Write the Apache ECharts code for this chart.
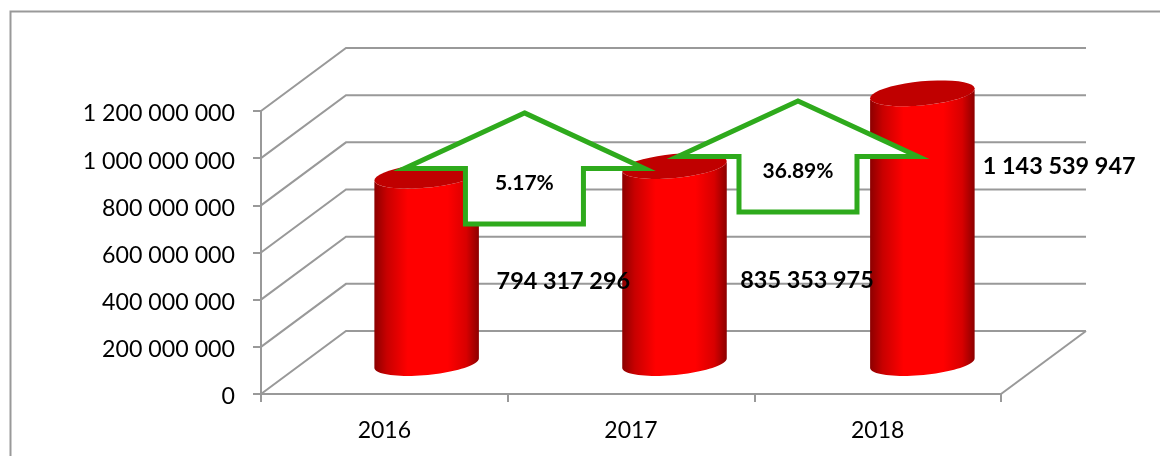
<!DOCTYPE html>
<html>
<head>
<meta charset="utf-8">
<style>
  html, body { margin: 0; padding: 0; background: #fff; }
  #chart { width: 1160px; height: 456px; }
</style>
<script src="https://cdn.jsdelivr.net/npm/echarts@6/dist/echarts.min.js"></script>
</head>
<body>
<div id="chart"></div>
<script>
const years = ["2016", "2017", "2018"];
const amounts = [794317296, 835353975, 1143539947];
const gridTicks = [0, 200000000, 400000000, 600000000, 800000000, 1000000000, 1200000000];
// arrows: [x on the hidden 0-3 axis, value of the tip, text]
const arrowX = [1.068, 2.177];
const arrowTip = [1192000000, 1242000000];
const arrowText = ["5.17%", "36.89%"];

const fontName = "Lato, 'Noto Sans', sans-serif";
const lineGrey = "#999999";
// how far the back wall sits behind the axis plane
const depthX = 85;
const depthY = -63;
// amount labels were moved by hand in the original
const labelShift = [[179, 75], [176, 83], [181.5, 42]];

const spaced = (v) => String(v).replace(/\B(?=(\d{3})+(?!\d))/g, " ");

// tilted ellipse outline, from angle a to angle b
function ellipsePoints(cx, cy, rx, ry, a, b) {
  const tilt = (-5.5 * Math.PI) / 180;
  const pts = [];
  for (let i = 0; i <= 40; i++) {
    const t = a + ((b - a) * i) / 40;
    const ex = rx * Math.cos(t);
    const ey = ry * Math.sin(t);
    pts.push([
      cx + ex * Math.cos(tilt) - ey * Math.sin(tilt),
      cy + ex * Math.sin(tilt) + ey * Math.cos(tilt),
    ]);
  }
  return pts;
}

function renderWall(params, api) {
  const v = api.value(0);
  const front = api.coord([0, v]);
  const end = api.coord([3, v]);
  const back = [front[0] + depthX, front[1] + depthY];
  const backEnd = [end[0] + depthX, end[1] + depthY];
  const children = [{
    type: "polyline",
    shape: { points: [front, back, backEnd] },
    style: { stroke: lineGrey, lineWidth: 2, fill: null },
  }];
  if (v === 0) {
    children.push({
      type: "line",
      shape: { x1: end[0], y1: end[1], x2: backEnd[0], y2: backEnd[1] },
      style: { stroke: lineGrey, lineWidth: 2 },
    });
  }
  return { type: "group", children };
}

function renderCylinder(params, api) {
  const cat = api.value(0);
  const base = api.coord([cat, 0]);
  const top = api.coord([cat, api.value(1)]);
  // the column stands half way into the floor, spacing opens up slightly with depth
  const cx = base[0] + 42.3 + cat * 1.2;
  const yBase = base[1] - 31;
  const yTop = top[1] - 31;
  const rx = 52.5;
  const ry = 12;
  const lower = ellipsePoints(cx, yBase, rx, ry, Math.PI, 0);
  const upper = ellipsePoints(cx, yTop, rx, ry, 0, Math.PI);
  const side = {
    type: "linear", x: 0, y: 0, x2: 1, y2: 0,
    colorStops: [
      { offset: 0, color: "#8c0000" },
      { offset: 0.12, color: "#c80000" },
      { offset: 0.32, color: "#ff0000" },
      { offset: 0.7, color: "#ff0000" },
      { offset: 0.88, color: "#d80000" },
      { offset: 1, color: "#8c0000" },
    ],
  };
  return {
    type: "group",
    children: [
      { type: "polygon", shape: { points: upper.concat(lower) }, style: { fill: side } },
      {
        type: "polygon",
        shape: { points: ellipsePoints(cx, yTop, rx, ry, 0, Math.PI * 2) },
        style: { fill: "#c00000" },
      },
    ],
  };
}

function renderAmountLabel(params, api) {
  const i = params.dataIndex;
  const p = api.coord([api.value(0), api.value(1)]);
  return {
    type: "text",
    x: p[0] + labelShift[i][0],
    y: p[1] + labelShift[i][1],
    style: {
      text: spaced(amounts[i]),
      fontFamily: fontName,
      fontWeight: "bold",
      fontSize: 23.4,
      fill: "#000",
      align: "center",
      verticalAlign: "middle",
    },
  };
}

function renderArrow(params, api) {
  const p = api.coord([api.value(0), api.value(1)]);
  const x = p[0];
  const y = p[1];
  return {
    type: "group",
    children: [
      {
        type: "polygon",
        shape: {
          points: [
            [x, y],
            [x + 120, y + 55.5],
            [x + 59, y + 55.5],
            [x + 59, y + 111],
            [x - 59, y + 111],
            [x - 59, y + 55.5],
            [x - 120, y + 55.5],
          ],
        },
        style: { fill: "#fff", stroke: "#2eaa1c", lineWidth: 5, lineJoin: "miter", miterLimit: 10 },
      },
      {
        type: "text",
        x: x,
        y: y + 70,
        style: {
          text: arrowText[params.dataIndex],
          fontFamily: fontName,
          fontWeight: "bold",
          fontSize: 21,
          fill: "#000",
          align: "center",
          verticalAlign: "middle",
        },
      },
    ],
  };
}

const chart = echarts.init(document.getElementById("chart"));
chart.setOption({
  animation: false,
  backgroundColor: "#fff",
  graphic: [{
    type: "rect",
    silent: true,
    // right and bottom edges run off the picture
    shape: { x: 10.5, y: 11.5, width: 1200, height: 500 },
    style: { fill: null, stroke: lineGrey, lineWidth: 2 },
  }],
  grid: { left: 261, right: 159, top: 111, bottom: 62 },
  xAxis: [
    {
      type: "category",
      data: years,
      axisLine: { lineStyle: { color: lineGrey, width: 2 } },
      axisTick: { show: true, length: 8, lineStyle: { color: lineGrey, width: 2 } },
      axisLabel: { margin: 25, fontSize: 23, fontFamily: fontName, color: "#000" },
    },
    { type: "value", min: 0, max: 3, show: false },
  ],
  yAxis: {
    type: "value",
    min: 0,
    max: 1200000000,
    interval: 200000000,
    axisLine: { show: true, lineStyle: { color: lineGrey, width: 2 } },
    axisTick: { show: true, length: 8, lineStyle: { color: lineGrey, width: 2 } },
    splitLine: { show: false },
    axisLabel: {
      margin: 26,
      color: "#000",
      formatter: (v) => "{t|" + spaced(v) + "}",
      rich: {
        t: { fontSize: 23.2, fontFamily: fontName, color: "#000", padding: [6, 0, 0, 0] },
      },
    },
  },
  series: [
    {
      type: "custom",
      xAxisIndex: 1,
      z: 1,
      silent: true,
      clip: false,
      renderItem: renderWall,
      encode: { y: 0 },
      data: gridTicks.map((v) => [v]),
    },
    {
      type: "custom",
      z: 2,
      clip: false,
      renderItem: renderCylinder,
      encode: { x: 0, y: 1 },
      data: amounts.map((v, i) => [i, v]),
    },
    {
      type: "custom",
      xAxisIndex: 1,
      z: 3,
      clip: false,
      renderItem: renderArrow,
      encode: { x: 0, y: 1 },
      data: arrowX.map((x, i) => [x, arrowTip[i]]),
    },
    {
      type: "custom",
      z: 4,
      clip: false,
      renderItem: renderAmountLabel,
      encode: { x: 0, y: 1 },
      data: amounts.map((v, i) => [i, v]),
    },
  ],
});
</script>
</body>
</html>
